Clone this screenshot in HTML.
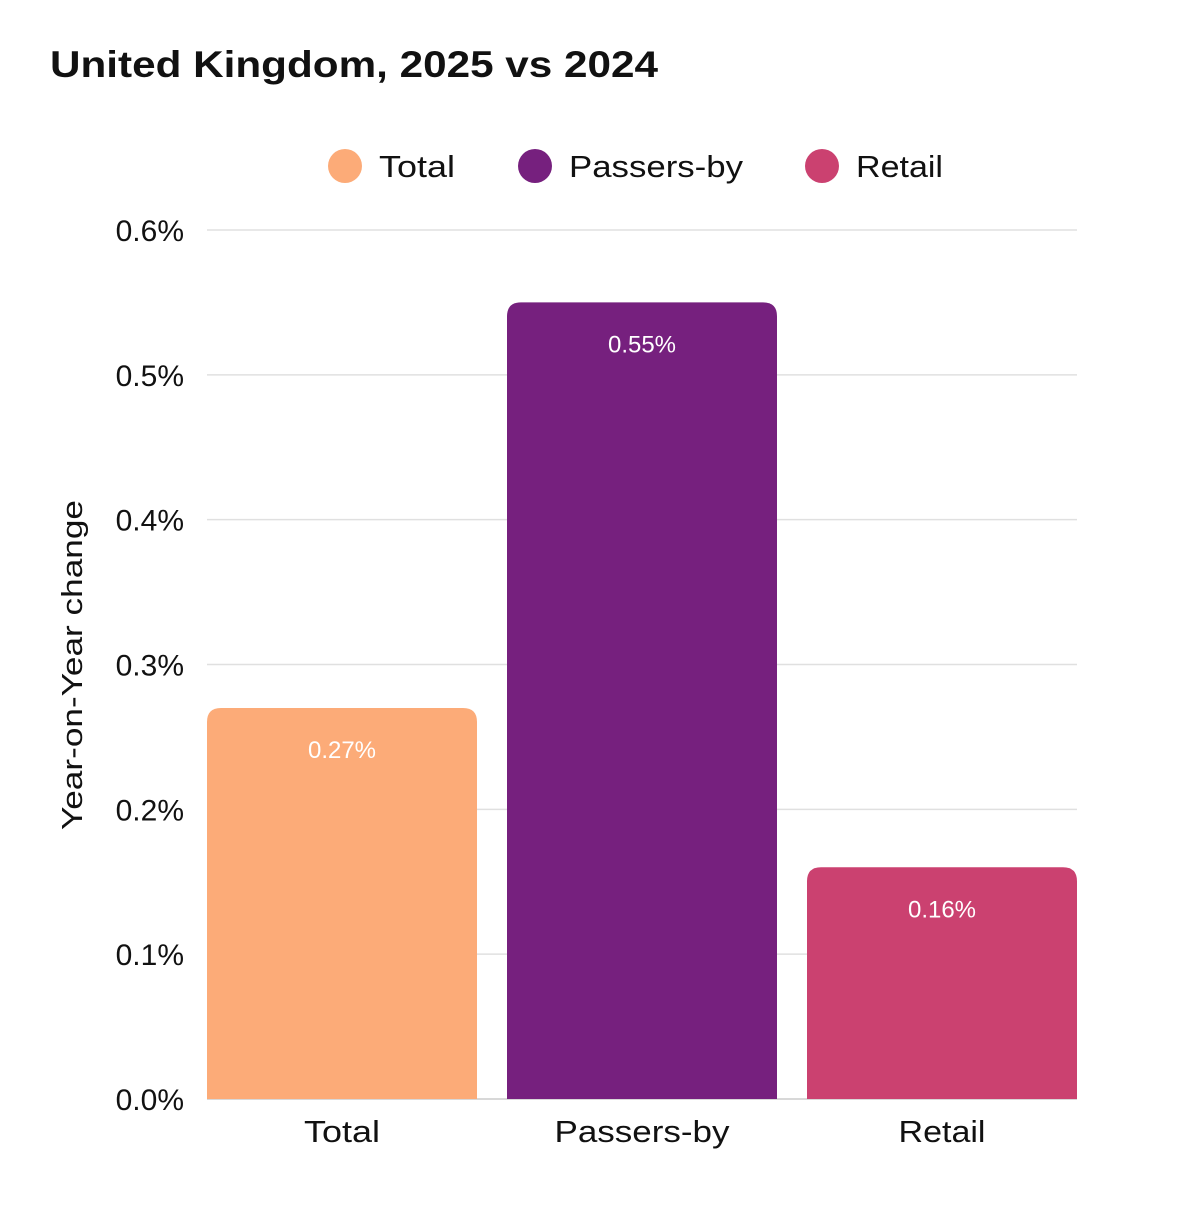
<!DOCTYPE html>
<html><head><meta charset="utf-8"><style>
body{margin:0;background:#fff;font-family:"Liberation Sans",sans-serif}
</style></head><body>
<svg id="c" width="1200" height="1200" xmlns="http://www.w3.org/2000/svg">
<text x="50" y="77" font-size="37" font-weight="bold" fill="#111" textLength="608" lengthAdjust="spacingAndGlyphs">United Kingdom, 2025 vs 2024</text>
<g id="legend"></g>
<g id="grid"></g>
<g id="bars"></g>
<text transform="translate(82,665) rotate(-90)" text-anchor="middle" font-size="29" fill="#111" textLength="330" lengthAdjust="spacingAndGlyphs">Year-on-Year change</text>
</svg>
<script>
const categories=["Total","Passers-by","Retail"];
const values=[0.27,0.55,0.16];
const colors=["#fcab78","#76207e","#cb4170"];
const ticks=[0,0.1,0.2,0.3,0.4,0.5,0.6];
const tickLabels=["0.0%","0.1%","0.2%","0.3%","0.4%","0.5%","0.6%"];
const legendLens=[76,174,87];
const axisLens=[76,175,87];
const NS="http://www.w3.org/2000/svg";
const y=v=>1099-v/0.6*869;
const x=i=>207+i*300;
const bw=270;
function mk(t,a,p,txt){const e=document.createElementNS(NS,t);for(const k in a)e.setAttribute(k,a[k]);if(txt!=null)e.textContent=txt;p.appendChild(e);return e;}
const g=document.getElementById('grid');
ticks.forEach((t,i)=>{
 const l=mk('line',{x1:207,x2:1077,y1:y(t),y2:y(t),stroke:i==0?'#ccc':'#e0e0e0','stroke-width':1.5},g);
 
 
 const tx=mk('text',{x:184,y:y(t)+11,'text-anchor':'end','font-size':30,fill:'#111'},g,tickLabels[i]);
 
 
});
const b=document.getElementById('bars');
values.forEach((v,i)=>{
 const x0=x(i),y0=y(v),y1=y(0),r=14;
 const p=mk('path',{d:`M${x0},${y1}V${y0+r}Q${x0},${y0} ${x0+r},${y0}H${x0+bw-r}Q${x0+bw},${y0} ${x0+bw},${y0+r}V${y1}Z`,fill:colors[i]},b);
 
 
 const vl=mk('text',{x:x0+bw/2,y:y0+50,'text-anchor':'middle','font-size':24,fill:'#fff'},b,v.toFixed(2)+'%');
 
 
 const cl=mk('text',{x:x0+bw/2,y:1142,'text-anchor':'middle','font-size':31,fill:'#111',textLength:axisLens[i],lengthAdjust:'spacingAndGlyphs'},b,categories[i]);
 
 
});
const lg=document.getElementById('legend');
const lx=[345,535,822];
categories.forEach((c,i)=>{
 const ci=mk('circle',{cx:lx[i],cy:166,r:17,fill:colors[i]},lg);
 
 
 const t=mk('text',{x:lx[i]+34,y:177,'font-size':31,fill:'#111',textLength:legendLens[i],lengthAdjust:'spacingAndGlyphs'},lg,c);
 
 
});
</script>
</body></html>
